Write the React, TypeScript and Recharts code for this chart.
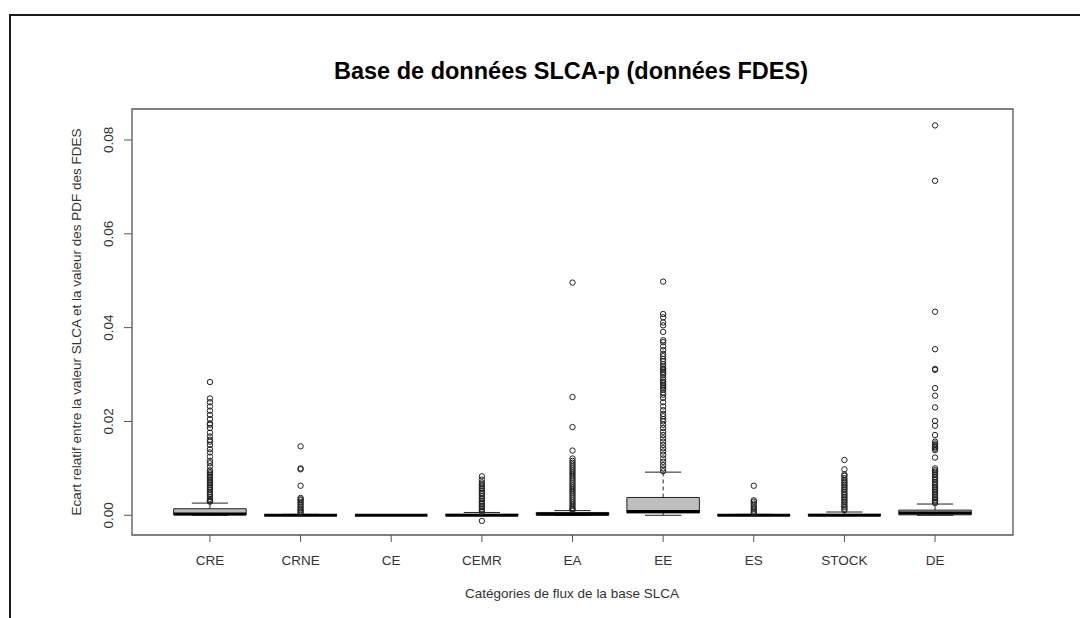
import React from 'react';
import { ComposedChart, XAxis, YAxis, Scatter, ReferenceArea, ReferenceLine } from 'recharts';

const categories = ['CRE', 'CRNE', 'CE', 'CEMR', 'EA', 'EE', 'ES', 'STOCK', 'DE'];
const yTicks = [0, 0.02, 0.04, 0.06, 0.08];

const whiskerLow = [0, 0, 0, 0, 0, 0, 0, 0, 0];
const q1 = [0.0001, 0, 0, 0, 0.0001, 0.0005, 0, 0, 0.0001];
const median = [0.0003, 0, 0, 0, 0.0002, 0.0008, 0, 0, 0.0005];
const q3 = [0.0014, 0.0001, 0, 0.0002, 0.0006, 0.0038, 0.0001, 0.0002, 0.0011];
const whiskerHigh = [0.0026, 0.0002, 0, 0.0006, 0.001, 0.0092, 0.0002, 0.0007, 0.0024];

const outCRE = [0.0284, 0.0249, 0.0241, 0.0232, 0.0223, 0.0214, 0.0205, 0.0196, 0.0193, 0.0186, 0.0176, 0.0168, 0.0161, 0.0157, 0.015, 0.0141, 0.0134, 0.0125, 0.0116, 0.0111, 0.0104, 0.0096, 0.0092, 0.0089, 0.0085, 0.0082, 0.0079, 0.0075, 0.0072, 0.0068, 0.0065, 0.0061, 0.0058, 0.0054, 0.005, 0.0046, 0.0043, 0.0039, 0.0035, 0.0032, 0.003, 0.0029];
const outCRNE = [0.0147, 0.01, 0.0098, 0.0063, 0.0037, 0.0034, 0.0032, 0.0028, 0.0025, 0.0021, 0.0018, 0.0014, 0.0011, 0.0008, 0.0005];
const outCE: number[] = [];
const outCEMR = [0.0083, 0.0076, 0.007, 0.0066, 0.0063, 0.0059, 0.0056, 0.0052, 0.0048, 0.0045, 0.0041, 0.0037, 0.0034, 0.003, 0.0027, 0.0024, 0.002, 0.0017, 0.0013, 0.001, 0.0007, -0.0012];
const outEA = [0.0496, 0.0252, 0.0188, 0.0138, 0.0121, 0.0116, 0.0112, 0.0108, 0.0104, 0.01, 0.0096, 0.0092, 0.0088, 0.0084, 0.008, 0.0076, 0.0072, 0.0068, 0.0064, 0.006, 0.0056, 0.0052, 0.0048, 0.0044, 0.004, 0.0036, 0.0032, 0.0028, 0.0024, 0.002, 0.0016, 0.0013, 0.0011];
const outEE = [0.0498, 0.0429, 0.0422, 0.0411, 0.0405, 0.0391, 0.0373, 0.0369, 0.036, 0.0352, 0.0344, 0.0339, 0.0333, 0.0328, 0.0322, 0.0317, 0.0313, 0.031, 0.0306, 0.0303, 0.03, 0.0294, 0.0289, 0.0285, 0.0282, 0.0278, 0.0275, 0.0271, 0.0268, 0.0262, 0.0257, 0.025, 0.0241, 0.0232, 0.0224, 0.0216, 0.0211, 0.0205, 0.02, 0.0193, 0.0186, 0.0178, 0.0171, 0.0164, 0.0157, 0.015, 0.0143, 0.0136, 0.0129, 0.0121, 0.0114, 0.0107, 0.01, 0.0094];
const outES = [0.0063, 0.0032, 0.0029, 0.0025, 0.0021, 0.0017, 0.0014, 0.001, 0.0007, 0.0004];
const outSTOCK = [0.0118, 0.0098, 0.0087, 0.0084, 0.0079, 0.0075, 0.0071, 0.0068, 0.0064, 0.0061, 0.0057, 0.0054, 0.005, 0.0046, 0.0043, 0.0039, 0.0036, 0.0032, 0.0029, 0.0025, 0.0021, 0.0018, 0.0014, 0.0011];
const outDE = [0.0831, 0.0713, 0.0434, 0.0354, 0.0312, 0.031, 0.0271, 0.0255, 0.023, 0.0201, 0.0191, 0.0171, 0.0157, 0.0153, 0.015, 0.0147, 0.0145, 0.0142, 0.0139, 0.0123, 0.01, 0.0096, 0.0093, 0.0089, 0.0086, 0.0082, 0.0078, 0.0075, 0.0071, 0.0068, 0.0064, 0.006, 0.0057, 0.0053, 0.005, 0.0046, 0.0043, 0.0039, 0.0036, 0.0032, 0.0029, 0.0026];
const outliers = [outCRE, outCRNE, outCE, outCEMR, outEA, outEE, outES, outSTOCK, outDE];

const X_DOMAIN: [number, number] = [0.14, 9.86];
const Y_DOMAIN: [number, number] = [-0.0042, 0.0866];
const BOX_HALF = 0.4;
const STAPLE_HALF = 0.2;
const FONT = 'Arial, "Liberation Sans", Helvetica, sans-serif';
const LABEL_SIZE = 13.5;

const outlierData = outliers.flatMap((arr, i) => arr.map((v) => ({ x: i + 1, y: v })));

const OutlierShape = (props: any) => {
  const { cx, cy } = props;
  if (cx == null || cy == null) return null;
  return <circle cx={cx} cy={cy} r={2.7} fill="none" stroke="#222" strokeWidth={1} />;
};

const YTick = (props: any) => {
  const { x, y, payload } = props;
  const tx = x - 9;
  return (
    <text x={tx} y={y} transform={`rotate(-90, ${tx}, ${y})`} textAnchor="middle" fontSize={LABEL_SIZE} fill="#333" fontFamily={FONT}>
      {Number(payload.value).toFixed(2)}
    </text>
  );
};

export default function App() {
  const boxes: React.ReactNode[] = [];
  categories.forEach((_, i) => {
    const x = i + 1;
    boxes.push(
      <ReferenceLine key={`wu${i}`} segment={[{ x, y: q3[i] }, { x, y: whiskerHigh[i] }]} stroke="#222" strokeDasharray="4 3" />,
      <ReferenceLine key={`wl${i}`} segment={[{ x, y: whiskerLow[i] }, { x, y: q1[i] }]} stroke="#222" strokeDasharray="4 3" />,
      <ReferenceLine key={`su${i}`} segment={[{ x: x - STAPLE_HALF, y: whiskerHigh[i] }, { x: x + STAPLE_HALF, y: whiskerHigh[i] }]} stroke="#222" />,
      <ReferenceLine key={`sl${i}`} segment={[{ x: x - STAPLE_HALF, y: whiskerLow[i] }, { x: x + STAPLE_HALF, y: whiskerLow[i] }]} stroke="#222" />,
      <ReferenceArea key={`b${i}`} x1={x - BOX_HALF} x2={x + BOX_HALF} y1={q1[i]} y2={q3[i]} fill="#bebebe" fillOpacity={1} stroke="#222" strokeWidth={1} />,
      <ReferenceLine key={`m${i}`} segment={[{ x: x - BOX_HALF, y: median[i] }, { x: x + BOX_HALF, y: median[i] }]} stroke="#000" strokeWidth={3} />
    );
  });

  return (
    <div style={{ position: 'absolute', left: 0, top: 0, width: 1080, height: 618, overflow: 'hidden', background: '#fff' }}>
      <div style={{ position: 'absolute', left: 9, top: 14, width: 1100, height: 700, border: '2px solid #1a1a1a', boxSizing: 'border-box' }} />
      <div style={{ position: 'absolute', left: 0, top: 0 }}>
        <ComposedChart width={1080} height={618} margin={{ top: 109, right: 67, bottom: 33, left: 92 }}>
          <XAxis
            type="number"
            dataKey="x"
            domain={X_DOMAIN}
            allowDataOverflow
            ticks={[1, 2, 3, 4, 5, 6, 7, 8, 9]}
            tickFormatter={(v: number) => categories[Math.round(v) - 1]}
            axisLine={false}
            tickLine={{ stroke: '#555' }}
            tickSize={7}
            tickMargin={13}
            height={50}
            tick={{ fontSize: LABEL_SIZE, fill: '#333', fontFamily: FONT }}
          />
          <YAxis
            type="number"
            dataKey="y"
            domain={Y_DOMAIN}
            allowDataOverflow
            ticks={yTicks}
            axisLine={false}
            tickLine={{ stroke: '#555' }}
            tickSize={8}
            width={40}
            tick={<YTick />}
          />
          <ReferenceArea x1={X_DOMAIN[0]} x2={X_DOMAIN[1]} y1={Y_DOMAIN[0]} y2={Y_DOMAIN[1]} fill="none" stroke="#555" strokeWidth={1.3} />
          {boxes}
          <Scatter data={outlierData} shape={<OutlierShape />} isAnimationActive={false} />
        </ComposedChart>
      </div>
      <svg width={1080} height={618} style={{ position: 'absolute', left: 0, top: 0, pointerEvents: 'none' }}>
        <text x={571} y={79} textAnchor="middle" fontSize={23.5} fontWeight="bold" fill="#000" fontFamily={FONT}>
          Base de données SLCA-p (données FDES)
        </text>
        <text x={572} y={598} textAnchor="middle" fontSize={LABEL_SIZE} fill="#333" fontFamily={FONT}>
          Catégories de flux de la base SLCA
        </text>
        <text x={81} y={322} textAnchor="middle" fontSize={LABEL_SIZE} fill="#333" fontFamily={FONT} transform="rotate(-90, 81, 322)">
          Ecart relatif entre la valeur SLCA et la valeur des PDF des FDES
        </text>
      </svg>
    </div>
  );
}
